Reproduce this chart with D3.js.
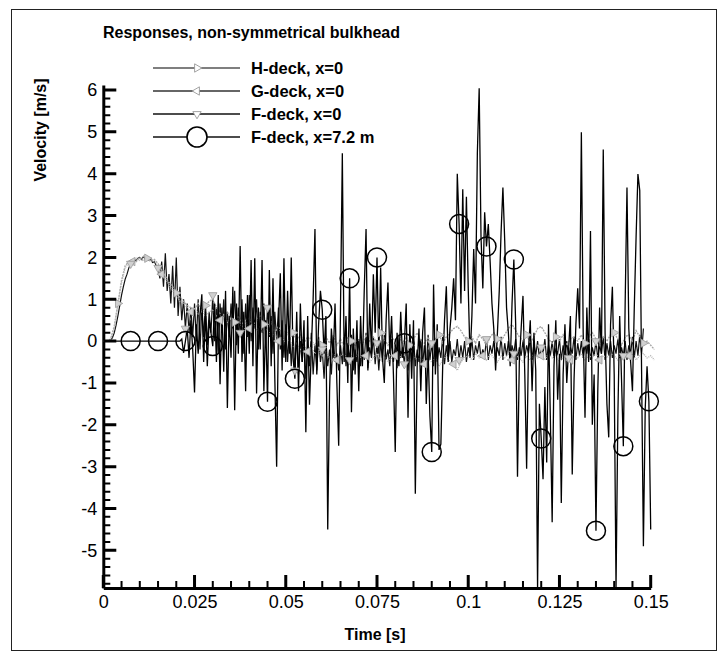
<!DOCTYPE html>
<html>
<head>
<meta charset="utf-8">
<script src="https://cdn.jsdelivr.net/npm/d3@7"></script>
<style>
  body { margin: 0; background: #fff; }
  svg { display: block; font-family: "Liberation Sans", Arial, Helvetica, sans-serif; }
</style>
</head>
<body>
<script>
const W = 726;
const H = 656;

// sampling steps of the traces [s]
const dtFine = 0.0005;
const dtCoarse = 0.001;

// H-deck, x=0 (dt = 1 ms)
const hDeck0 = [
  0, 0, 0.05, 0.35, 0.9, 1.45, 1.8, 1.9, 1.95, 1.9,
  2.0, 1.92, 1.98, 1.9, 1.95, 1.85, 1.7, 1.55, 1.4, 1.3,
  1.15, 1.05, 0.95, 0.85, 0.8, 0.75, 0.9, 0.7, 0.85, 0.95,
  1.0, 0.8, 0.65, 0.55, 0.7, 0.5, 0.45, 0.6, 0.4, 0.5,
  0.55, 0.35, 0.5, 0.6, 0.4, 0.3, 0.45, 0.2, 0.35, 0.15,
  0.25, 0.1, 0.2, 0.0, 0.15, -0.05, 0.1, 0.0, -0.1, 0.05,
  -0.1, 0.1, -0.05, 0.15, -0.1, 0.05, -0.15, 0.1, 0.0, -0.1,
  0.05, -0.1, 0.15, 0.0, 0.1, -0.05, 0.2, 0.05, -0.1, 0.1,
  0.0, 0.15, -0.05, 0.1, -0.1, 0.05, 0.2, 0.0, -0.05, 0.1,
  -0.1, 0.05, 0.15, -0.05, 0.1, 0.2, 0.3, 0.35, 0.25, 0.1,
  0.0, 0.1, -0.05, 0.15, 0.05, -0.1, 0.1, 0.2, 0.05, 0.0,
  0.15, 0.3, 0.4, 0.25, 0.1, 0.0, 0.15, -0.05, 0.1, 0.3,
  0.35, 0.2, 0.05, -0.05, 0.1, 0.0, 0.15, -0.1, 0.05, 0.1,
  0.0, 0.15, -0.05, 0.1, 0.2, 0.05, -0.1, 0.1, 0.0, 0.15,
  0.2, 0.05, -0.1, 0.1, 0.15, 0.0, 0.25, 0.1, -0.05, 0.0,
  -0.1, -0.2
];

// G-deck, x=0 (dt = 1 ms)
const gDeck0 = [
  0, 0, 0.02, 0.3, 0.85, 1.4, 1.75, 1.88, 1.9, 1.98,
  1.92, 2.02, 1.95, 2.0, 1.9, 1.8, 1.6, 1.5, 1.35, 1.2,
  1.1, 0.95, 0.9, 0.8, 0.7, 0.8, 0.65, 0.75, 0.6, 0.7,
  0.75, 0.6, 0.5, 0.65, 0.45, 0.55, 0.4, 0.5, 0.35, 0.45,
  0.3, 0.4, 0.25, 0.35, 0.2, 0.3, 0.1, 0.2, 0.0, 0.1,
  -0.05, 0.05, -0.15, -0.05, -0.2, -0.1, -0.25, -0.15, -0.3, -0.2,
  -0.35, -0.25, -0.4, -0.3, -0.45, -0.35, -0.3, -0.5, -0.35, -0.4,
  -0.3, -0.45, -0.35, -0.5, -0.4, -0.3, -0.45, -0.35, -0.5, -0.4,
  -0.35, -0.45, -0.3, -0.4, -0.5, -0.35, -0.45, -0.4, -0.55, -0.45,
  -0.5, -0.4, -0.6, -0.45, -0.35, -0.5, -0.55, -0.7, -0.5, -0.4,
  -0.35, -0.45, -0.3, -0.4, -0.35, -0.45, -0.3, -0.4, -0.5, -0.35,
  -0.4, -0.3, -0.45, -0.35, -0.4, -0.5, -0.35, -0.45, -0.3, -0.4,
  -0.35, -0.45, -0.3, -0.4, -0.35, -0.5, -0.4, -0.3, -0.45, -0.35,
  -0.4, -0.3, -0.45, -0.35, -0.4, -0.3, -0.45, -0.35, -0.4, -0.3,
  -0.35, -0.45, -0.3, -0.4, -0.35, -0.3, -0.45, -0.35, -0.3, -0.4,
  -0.35, -0.45
];

// F-deck, x=0 (dt = 0.5 ms)
const fDeck0 = [
  0, 0, 0, 0, 0.02, 0.08, 0.2, 0.38, 0.6, 0.85,
  1.1, 1.3, 1.48, 1.6, 1.75, 1.85, 1.9, 1.95, 1.92, 1.98,
  2.0, 1.95, 2.02, 1.97, 2.0, 1.93, 1.95, 1.88, 1.9, 1.8,
  1.75, 1.5, 1.9, 1.3, 2.1, 1.2, 1.6, 0.9, 1.8, 0.8,
  2.0, 0.6, 1.3, 0.5, 1.0, 0.3, 0.9, 0.2, 0.8, 0.1,
  0.9, 0.0, 1.0, -0.2, 0.8, 0.1, 0.9, -0.1, 0.7, 0.2,
  1.1, 0.0, 0.8, -0.3, 0.9, 0.2, 1.0, -0.2, 0.7, 0.1,
  0.9, 0.3, 1.2, -0.1, 0.8, 0.2, 1.0, -0.3, 0.9, 0.1,
  1.1, 0.0, 0.8, 0.3, 1.0, -0.2, 0.7, 0.2, 0.9, -0.1,
  0.8, 0.1, 0.6, -0.3, 0.7, 0.0, 0.8, -0.2, 0.5, -0.4,
  0.4, -0.5, 0.3, -0.6, 0.2, -0.7, 0.1, -0.8, 0.0, -0.5,
  0.1, -0.9, -0.1, -0.6, 0.2, -0.8, -0.1, -0.7, 0.1, -0.5,
  -0.2, -0.9, 0.0, -0.6, -0.2, -0.8, 0.1, -0.5, -0.3, -0.7,
  -0.1, -0.55, 0.1, -0.6, -0.05, -0.45, 0.15, -0.7, -0.2, -0.5,
  0.05, -0.6, -0.1, -0.45, 0.2, -0.65, -0.15, -0.4, 0.1, -0.55,
  -0.05, -0.7, 0.0, -0.5, 0.15, -0.45, -0.2, -0.6, 0.05, -0.5,
  -0.1, -0.65, 0.1, -0.4, -0.15, -0.55, 0.0, -0.7, -0.05, -0.45,
  0.1, -0.6, -0.2, -0.5, 0.05, -0.55, -0.1, -0.65, 0.15, -0.45,
  -0.05, -0.6, 0.0, -0.5, -0.15, -0.4, 0.1, -0.55, -0.1, -0.45,
  0.0, -0.5, -0.2, -0.35, 0.05, -0.45, -0.1, -0.4, 0.0, -0.5,
  -0.15, -0.35, 0.05, -0.45, -0.1, -0.3, 0.0, -0.4, -0.2, -0.35,
  0.05, -0.45, -0.1, -0.3, 0.0, -0.4, -0.15, -0.35, 0.1, -0.45,
  -0.05, -0.35, 0.0, -0.5, -0.1, -0.3, 0.05, -0.45, -0.15, -0.35,
  0.0, -0.4, -0.1, -0.3, 0.1, -0.45, -0.05, -0.35, 0.0, -0.4,
  -0.15, -0.3, 0.05, -0.45, -0.1, -0.35, 0.0, -0.4, -0.2, -0.3,
  0.05, -0.45, -0.1, -0.35, 0.0, -0.4, -0.15, -0.3, 0.1, -0.45,
  -0.05, -0.35, 0.0, -0.4, -0.1, -0.3, 0.05, -0.45, -0.15, -0.35,
  0.0, -0.4, -0.1, -0.3, 0.1, -0.45, -0.05, -0.35, 0.0, -0.4,
  -0.1, -0.3, 0.05, -0.4, -0.15, -0.35, 0.0, -0.45, -0.1, -0.3,
  0.1, -0.4, 0.0, -0.35, 0.15, -0.3, 0.3
];

// F-deck, x=7.2 m (dt = 0.5 ms)
const fDeck72 = [
  0, 0, 0, 0, 0, 0, 0, 0, 0, 0,
  0, 0, 0, 0, 0, 0, 0, 0, 0, 0,
  0, 0, 0, 0, 0, 0, 0, 0, 0, 0,
  0, 0, 0, 0, 0, 0, 0, 0, 0, 0,
  0, 0, 0, 0.05, -0.28, 0, 0.3, -0.4, 0.5, -0.2,
  -1.23, 0.4, -0.3, 0.6, 1.12, -0.5, 0.7, -0.6, 0.5, 0.2,
  -0.12, 0.9, -0.5, 1.1, -1.03, 0.8, -0.73, 1.2, -1.6, 0.6,
  -0.4, 1.3, -1.65, 0.9, -0.3, 2.27, -0.5, 0.7, -1.2, 1.1,
  -0.3, 1.94, -0.6, 1.98, -1.25, 0.8, -0.2, 1.94, -1.2, 0.5,
  -1.45, 1.7, -0.6, 1.5, -0.9, -3.0, 0.4, 1.62, -0.7, 1.98,
  -0.5, 1.2, -0.3, 2.0, -0.4, -0.9, 0.7, -1.2, 0.9, -0.5,
  0.5, -2.18, 0.6, -1.52, -0.2, 1.0, 2.68, -0.8, 0.4, 1.2,
  0.75, -0.3, 0.6, -4.5, -1.2, 0.3, -0.4, 0.9, -1.0, -2.5,
  0.8, 4.49, -0.5, 0.6, -1.0, 1.5, -1.7, 0.3, -0.8, 0.5,
  -1.2, 0.6, -0.6, 1.2, 2.68, -0.7, 0.9, -0.3, 1.6, 0.2,
  2.0, -0.3, 1.76, -0.4, -1.0, 0.5, 1.4, -0.3, 0.6, -0.8,
  -2.65, 0.2, -0.6, 0.7, -0.4, -0.05, 0.9, -1.83, 0.4, -0.9,
  0.5, -3.65, -0.6, 0.3, -1.2, 0.2, 0.8, -1.5, -0.2, -1.8,
  -2.65, 1.35, -0.8, 0.4, -2.6, -2.46, -0.6, 0.5, 1.31, -0.5,
  0.3, 0.8, 1.5, 0.5, 4.0, 2.8, 0.9, 3.63, 1.2, 3.45,
  1.26, -0.4, 0.6, 2.2, 0.9, 4.5, 6.04, 2.5, 1.26, 3.08,
  2.26, 2.8, 1.9, 0.9, 0.3, -0.7, 0.2, 1.2, 2.6, 3.67,
  2.4, 0.8, 0.2, -0.6, 0.9, 1.95, 0.4, -3.24, -0.5, 0.3,
  1.08, -0.8, -3.05, -0.2, 0.5, -1.2, 0.2, -0.7, -5.9, -1.5,
  -2.33, -3.3, -1.1, -2.9, 0.4, -1.8, -4.33, -0.6, 0.5, -1.4,
  -0.3, -3.87, -0.8, 0.4, -1.0, -0.2, 0.6, -3.19, -0.9, 0.4,
  1.26, 0.3, 4.99, 0.2, -1.83, 0.8, -0.5, 2.63, -2.0, -0.8,
  -4.53, -1.2, 0.8, -0.3, 4.58, 0.2, -1.5, -2.3, 0.4, 1.3,
  -0.8, -5.9, -1.8, 0.6, -0.9, -2.51, 0.9, 3.67, 0.3, -0.5,
  -1.2, 0.8, 2.5, 3.99, 3.6, -0.7, -4.9, -1.6, -0.6, -1.44,
  -4.5
];

// times at which the circle symbols of the x=7.2 m trace are visible
const circleTimes = [0.0075, 0.015, 0.0225, 0.03, 0.045, 0.0525, 0.06, 0.0675, 0.075,
  0.0825, 0.09, 0.0975, 0.105, 0.1125, 0.12, 0.135, 0.1425, 0.1495];

const xTickValues = [0, 0.025, 0.05, 0.075, 0.1, 0.125, 0.15];
const xTickLabels = ['0', '0.025', '0.05', '0.075', '0.1', '0.125', '0.15'];
const yTickValues = [-5, -4, -3, -2, -1, 0, 1, 2, 3, 4, 5, 6];
const seriesNames = ['H-deck, x=0', 'G-deck, x=0', 'F-deck, x=0', 'F-deck, x=7.2 m'];

const toPoints = (vals, dt) => vals.map((v, i) => [i * dt, v]);

const x = d3.scaleLinear().domain([0, 0.15]).range([103.3, 650.7]);
const y = d3.scaleLinear().domain([-5.9, 6.12]).range([588, 85]);

const svg = d3.select('body').append('svg')
  .attr('width', W)
  .attr('height', H);

svg.append('rect')
  .attr('x', 11.5).attr('y', 9.5)
  .attr('width', 705).attr('height', 641)
  .attr('fill', 'none')
  .attr('stroke', '#222')
  .attr('stroke-width', 1);

svg.append('defs').append('clipPath')
  .attr('id', 'plotClip')
  .append('rect')
  .attr('x', 103.3).attr('y', 80)
  .attr('width', 560).attr('height', 508);

const xLeft = x.range()[0];
const yBase = y.range()[0];

// axis lines and tick labels
svg.append('g').attr('transform', `translate(0,${yBase})`)
  .call(d3.axisBottom(x).tickValues(xTickValues).tickSize(0).tickPadding(7)
    .tickFormat((d, i) => xTickLabels[i]))
  .call(g => g.select('.domain').attr('stroke', '#000').attr('stroke-width', 3))
  .call(g => g.selectAll('text').attr('font-size', 18).attr('fill', '#000')
    .attr('font-family', '"Liberation Sans", Arial, sans-serif'));

svg.append('g').attr('transform', `translate(${xLeft},0)`)
  .call(d3.axisLeft(y).tickValues(yTickValues).tickSize(0).tickPadding(6)
    .tickFormat(d => String(d)))
  .call(g => g.select('.domain').attr('stroke', '#000').attr('stroke-width', 3))
  .call(g => g.selectAll('text').attr('font-size', 18).attr('fill', '#000')
    .attr('font-family', '"Liberation Sans", Arial, sans-serif'));

const line = d3.line().x(d => x(d[0])).y(d => y(d[1]));
const plot = svg.append('g').attr('clip-path', 'url(#plotClip)');

const hPts = toPoints(hDeck0, dtCoarse);
const gPts = toPoints(gDeck0, dtCoarse);
const f0Pts = toPoints(fDeck0, dtFine);
const f72Pts = toPoints(fDeck72, dtFine);

plot.append('path').datum(f0Pts)
  .attr('d', line).attr('fill', 'none')
  .attr('stroke', '#111').attr('stroke-width', 1.2);

plot.append('path').datum(hPts)
  .attr('d', line).attr('fill', 'none')
  .attr('stroke', '#a8a8a8').attr('stroke-width', 1.4)
  .attr('stroke-dasharray', '2,1');

plot.append('path').datum(gPts)
  .attr('d', line).attr('fill', 'none')
  .attr('stroke', '#b8b8b8').attr('stroke-width', 1.4)
  .attr('stroke-dasharray', '1,1');

plot.append('path').datum(f72Pts)
  .attr('d', line).attr('fill', 'none')
  .attr('stroke', '#000').attr('stroke-width', 1.3);

// gray triangle symbols of the x=0 traces
const tri = d3.symbol().type(d3.symbolTriangle).size(30);
function drawSymbols(pts, every, start, rot) {
  plot.selectAll(null)
    .data(pts.filter((d, i) => i >= start && (i - start) % every === 0))
    .enter().append('path')
    .attr('d', tri)
    .attr('transform', d => `translate(${x(d[0])},${y(d[1])}) rotate(${rot})`)
    .attr('fill', '#d0d0d0')
    .attr('stroke', '#999')
    .attr('stroke-width', 0.8);
}
drawSymbols(hPts, 8, 4, 90);
drawSymbols(gPts, 8, 8, -90);
drawSymbols(f0Pts, 15, 15, 180);

plot.selectAll('circle.mark')
  .data(circleTimes.map(t => f72Pts[Math.round(t / dtFine)]))
  .enter().append('circle')
  .attr('class', 'mark')
  .attr('cx', d => x(d[0]))
  .attr('cy', d => y(d[1]))
  .attr('r', 9.5)
  .attr('fill', 'none')
  .attr('stroke', '#000')
  .attr('stroke-width', 1.5);

// inward tick marks, drawn last so nothing sits over them
const xMinor = d3.range(0, 0.1501, 0.005).filter(v => Math.abs(v / 0.025 - Math.round(v / 0.025)) > 1e-6);
const yMinor = d3.range(-58, 61, 2).map(v => v / 10).filter(v => Math.abs(v - Math.round(v)) > 1e-6);

const tickPath = (len, vals, horizontal) => {
  const p = d3.path();
  vals.forEach(v => {
    if (horizontal) {
      p.moveTo(xLeft, y(v));
      p.lineTo(xLeft + len, y(v));
    } else {
      p.moveTo(x(v), yBase);
      p.lineTo(x(v), yBase - len);
    }
  });
  return p.toString();
};
const tickG = svg.append('g').attr('fill', 'none').attr('stroke', '#000');
tickG.append('path').attr('d', tickPath(7, xMinor, false)).attr('stroke-width', 2);
tickG.append('path').attr('d', tickPath(13, xTickValues, false)).attr('stroke-width', 3);
tickG.append('path').attr('d', tickPath(7, yMinor, true)).attr('stroke-width', 2);
tickG.append('path').attr('d', tickPath(13, yTickValues, true)).attr('stroke-width', 3);

// titles
svg.append('text')
  .attr('x', 103).attr('y', 38)
  .attr('font-size', 16).attr('font-weight', 'bold')
  .text('Responses, non-symmetrical bulkhead');

svg.append('text')
  .attr('transform', 'translate(46,130) rotate(-90)')
  .attr('text-anchor', 'middle')
  .attr('font-size', 16).attr('font-weight', 'bold')
  .text('Velocity [m/s]');

svg.append('text')
  .attr('x', 375).attr('y', 640)
  .attr('text-anchor', 'middle')
  .attr('font-size', 16).attr('font-weight', 'bold')
  .text('Time [s]');

// legend
const legendY = [68, 91, 114, 137];
const legendLine = ['#555', '#333', '#111', '#111'];
const legendRot = [90, -90, 180, null];
const legend = svg.append('g');
seriesNames.forEach((name, i) => {
  const row = legend.append('g').attr('transform', `translate(0,${legendY[i]})`);
  row.append('line')
    .attr('x1', 153).attr('x2', 240)
    .attr('stroke', legendLine[i]).attr('stroke-width', 1.4);
  if (legendRot[i] === null) {
    row.append('circle').attr('cx', 197).attr('r', 10)
      .attr('fill', '#fff').attr('stroke', '#000').attr('stroke-width', 1.6);
  } else {
    row.append('path').attr('d', tri)
      .attr('transform', `translate(197,0) rotate(${legendRot[i]})`)
      .attr('fill', '#fff').attr('stroke', '#999').attr('stroke-width', 0.9);
  }
  row.append('text')
    .attr('x', 251).attr('y', 6)
    .attr('font-size', 16.5).attr('font-weight', 'bold')
    .text(name);
});
</script>
</body>
</html>
